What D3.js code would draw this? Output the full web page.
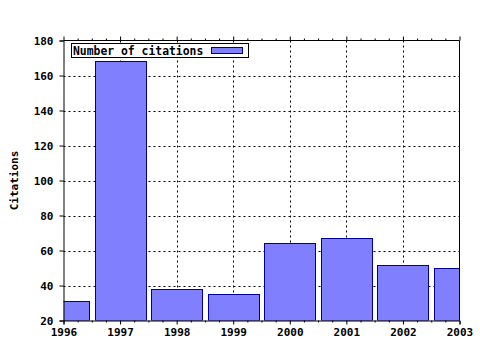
<!DOCTYPE html>
<html><head><meta charset="utf-8">
<script src="https://cdn.jsdelivr.net/npm/d3@7"></script>
<style>body{margin:0;background:#fff}</style>
</head><body>
<svg id="c" width="480" height="350"></svg>
<script>
const years = [1996, 1997, 1998, 1999, 2000, 2001, 2002, 2003];
const citations = [31, 168, 38, 35, 64, 67, 52, 50];
const yTicks = [20, 40, 60, 80, 100, 120, 140, 160, 180];
const seriesName = "Number of citations";
const yTitle = "Citations";

const svg = d3.select("#c");
const L = 63.5, R = 459.5, T = 40.5, B = 320.5;
const font = "'DejaVu Sans Mono', monospace";

const x = d3.scaleLinear().domain([1996, 2003]).range([L, R]);
const y = d3.scaleLinear().domain([20, 180]).range([B, T]);
const step = x(1997) - x(1996);
const bw = step * 0.9;

svg.append("defs").append("clipPath").attr("id", "pc")
  .append("rect").attr("x", L).attr("y", T).attr("width", R - L).attr("height", B - T);

// grid
const g = svg.append("g");
g.selectAll(".gy").data(yTicks.slice(1, -1)).join("line")
  .attr("x1", L).attr("x2", R).attr("y1", d => Math.round(y(d)) + 0.5).attr("y2", d => Math.round(y(d)) + 0.5)
  .attr("stroke", "#000").attr("stroke-dasharray", "2,3");
g.selectAll(".gx").data(years.slice(1, -1)).join("line")
  .attr("y1", T).attr("y2", B).attr("x1", d => Math.round(x(d)) + 0.5).attr("x2", d => Math.round(x(d)) + 0.5)
  .attr("stroke", "#000").attr("stroke-dasharray", "2,3");

// bars
svg.append("g").attr("clip-path", "url(#pc)")
  .selectAll("rect").data(years).join("rect")
  .attr("x", (d) => Math.round(x(d) - bw / 2) + 0.5)
  .attr("width", Math.round(bw))
  .attr("y", (d, i) => Math.round(y(citations[i])) + 0.5)
  .attr("height", (d, i) => B - Math.round(y(citations[i])) - 0.5)
  .attr("fill", "#8080ff").attr("stroke", "#000099").attr("stroke-width", 1);

// frame
svg.append("path").attr("d", `M${L},${T}H${R}V${B}`).attr("fill", "none").attr("stroke", "#000");

// axes
const xMinor = [];
for (let i = 0; i < years.length - 1; i++) for (let k = 1; k < 4; k++) xMinor.push(years[i] + k / 4);

const xa = svg.append("g").attr("transform", `translate(0,${B})`)
  .call(d3.axisBottom(x).tickValues(years).tickFormat(d3.format("d")).tickSize(4).tickPadding(4));
const xm = svg.append("g").attr("transform", `translate(0,${B})`)
  .call(d3.axisBottom(x).tickValues(xMinor).tickFormat("").tickSize(2));
const xt = svg.append("g").attr("transform", `translate(0,${T})`)
  .call(d3.axisTop(x).tickValues(years).tickFormat("").tickSize(4));
const xtm = svg.append("g").attr("transform", `translate(0,${T})`)
  .call(d3.axisTop(x).tickValues(xMinor).tickFormat("").tickSize(2));
const ya = svg.append("g").attr("transform", `translate(${L},0)`)
  .call(d3.axisLeft(y).tickValues(yTicks).tickSize(4).tickPadding(6));
[xa, xm, xt, xtm, ya].forEach(a => {
  a.select(".domain").attr("stroke", "#000");
  a.selectAll("line").attr("stroke", "#000");
  a.selectAll("text").attr("font-family", font).attr("font-weight", "bold").attr("font-size", 11).attr("fill", "#000");
});
xt.select(".domain").remove(); xtm.select(".domain").remove();
xm.select(".domain").remove();

// y title
svg.append("text").attr("transform", `translate(18,${(T + B) / 2}) rotate(-90)`)
  .attr("text-anchor", "middle").attr("font-family", font).attr("font-weight", "bold").attr("font-size", 11)
  .text(yTitle);

// legend
const lg = svg.append("g");
lg.append("rect").attr("x", 71.5).attr("y", 43.5).attr("width", 177).attr("height", 14)
  .attr("fill", "#fff").attr("stroke", "#000");
lg.append("text").attr("x", 73).attr("y", 54.5).attr("font-family", font).attr("font-weight", "bold")
  .attr("font-size", 11.4).text(seriesName);
lg.append("rect").attr("x", 211.5).attr("y", 47.5).attr("width", 31).attr("height", 6)
  .attr("fill", "#8080ff").attr("stroke", "#000099");
</script>
</body></html>
